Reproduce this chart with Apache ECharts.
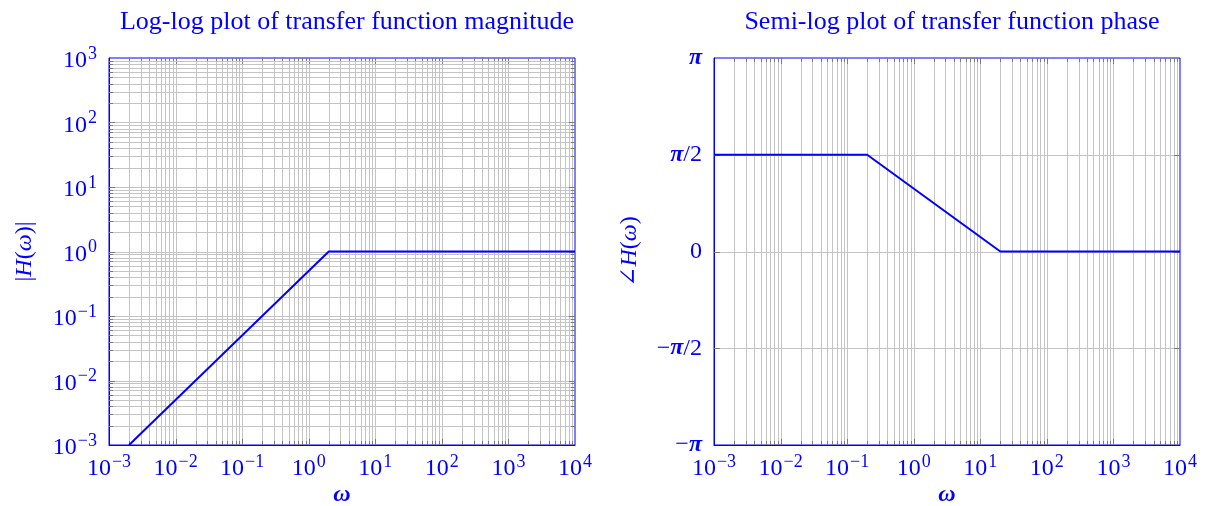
<!DOCTYPE html>
<html>
<head>
<meta charset="utf-8">
<script src="https://cdn.jsdelivr.net/npm/echarts@6/dist/echarts.min.js"></script>
<style>
html,body{margin:0;padding:0;background:#fff;}
#c{width:1207px;height:506px;}
</style>
</head>
<body>
<div id="c"></div>
<script>
// ---- data ----
var titles = ['Log-log plot of transfer function magnitude', 'Semi-log plot of transfer function phase'];
var magOmega = [0.002, 2, 10000];
var magValues = [0.001, 1, 1];
var phaseOmega = [0.001, 0.2, 20, 10000];
var phaseValues = [Math.PI / 2, Math.PI / 2, 0, 0];
var phaseTickLabels = ['\u2212\u03C0', '\u2212\u03C0/2', '0', '\u03C0/2', '\u03C0'];
var xDecades = [-3, -2, -1, 0, 1, 2, 3, 4];
var magDecades = [-3, -2, -1, 0, 1, 2, 3];
var phaseGridValues = [-Math.PI, -Math.PI / 2, 0, Math.PI / 2, Math.PI];

var BLUE = '#0000ff';
var FONT = '"Liberation Serif", "DejaVu Serif", serif';

function decadeLines(decades) {
  var out = [];
  for (var i = 0; i < decades.length; i++) {
    var b = Math.pow(10, decades[i]);
    out.push([b, 1]);
    if (i < decades.length - 1) {
      for (var m = 2; m <= 9; m++) out.push([m * b, 0]);
    }
  }
  return out;
}

// grid items: [x, y, orient(0 vertical,1 horizontal), major]
var grid0Items = [];
decadeLines(xDecades).forEach(function (d) { grid0Items.push([d[0], 1, 0, d[1]]); });
decadeLines(magDecades).forEach(function (d) { grid0Items.push([1, d[0], 1, d[1]]); });
var grid1Items = [];
decadeLines(xDecades).forEach(function (d) { grid1Items.push([d[0], 0, 0, d[1]]); });
phaseGridValues.forEach(function (v) { grid1Items.push([1, v, 1, 1]); });

function renderGrid(params, api) {
  var cs = params.coordSys;
  var orient = api.value(2);
  var major = api.value(3);
  var p = api.coord([api.value(0), api.value(1)]);
  var children = [];
  var tl = major ? 6 : 4;
  var gridStyle = { stroke: '#c4c4c4', lineWidth: 1 };
  var tickStyle = { stroke: '#7a7a7a', lineWidth: 1 };
  if (orient === 0) {
    var x = Math.round(p[0]) + 0.5;
    if (x > cs.x + 1 && x < cs.x + cs.width - 1) {
      children.push({ type: 'line', shape: { x1: x, y1: cs.y, x2: x, y2: cs.y + cs.height }, style: gridStyle });
      children.push({ type: 'line', shape: { x1: x, y1: cs.y, x2: x, y2: cs.y + tl }, style: tickStyle });
      children.push({ type: 'line', shape: { x1: x, y1: cs.y + cs.height - tl, x2: x, y2: cs.y + cs.height }, style: tickStyle });
    }
  } else {
    var y = Math.round(p[1]) + 0.5;
    if (y > cs.y + 1 && y < cs.y + cs.height - 1) {
      children.push({ type: 'line', shape: { x1: cs.x, y1: y, x2: cs.x + cs.width, y2: y }, style: gridStyle });
      children.push({ type: 'line', shape: { x1: cs.x, y1: y, x2: cs.x + tl, y2: y }, style: tickStyle });
      children.push({ type: 'line', shape: { x1: cs.x + cs.width - tl, y1: y, x2: cs.x + cs.width, y2: y }, style: tickStyle });
    }
  }
  return { type: 'group', children: children };
}

function powLabel(v) {
  var e = Math.round(Math.log10(v));
  var s = e < 0 ? '\u2212' + (-e) : String(e);
  return '{b|10}{s|' + s + '}';
}
var powRich = {
  b: { fontFamily: FONT, fontSize: 24, color: BLUE, lineHeight: 30, verticalAlign: 'bottom' },
  s: { fontFamily: FONT, fontSize: 18, color: BLUE, lineHeight: 30, verticalAlign: 'bottom', padding: [0, 0, 10, 1] }
};

function logXAxis(gi) {
  return {
    type: 'log', gridIndex: gi, logBase: 10, min: 0.001, max: 10000, interval: 1,
    name: '{i|\u03C9}', nameLocation: 'middle', nameGap: 38, nameMoveOverlap: false,
    nameTextStyle: { rich: { i: { fontFamily: FONT, fontStyle: 'italic', fontWeight: 'bold', fontSize: 24, color: BLUE } } },
    axisLine: { show: true, onZero: false, lineStyle: { color: BLUE, width: 1 } },
    axisTick: { show: false },
    splitLine: { show: false },
    minorTick: { show: false }, minorSplitLine: { show: false },
    axisLabel: { formatter: powLabel, margin: 6, rich: powRich, showMinLabel: true, showMaxLabel: true }
  };
}

var option = {
  animation: false,
  title: [
    { text: titles[0], left: 342, top: 4, textAlign: 'center', textStyle: { fontFamily: FONT, fontWeight: 'normal', fontSize: 26, color: BLUE } },
    { text: titles[1], left: 947, top: 4, textAlign: 'center', textStyle: { fontFamily: FONT, fontWeight: 'normal', fontSize: 26, color: BLUE } }
  ],
  grid: [
    { left: 109, right: 632, top: 58, bottom: 61, show: true, borderColor: BLUE, borderWidth: 1, backgroundColor: 'transparent', containLabel: false, outerBoundsMode: 'none' },
    { left: 714, right: 27, top: 58, bottom: 61, show: true, borderColor: BLUE, borderWidth: 1, backgroundColor: 'transparent', containLabel: false, outerBoundsMode: 'none' }
  ],
  xAxis: [logXAxis(0), logXAxis(1)],
  yAxis: [
    {
      type: 'log', gridIndex: 0, logBase: 10, min: 0.001, max: 1000, interval: 1,
      name: '{n||}{i|H}{n|(}{i|\u03C9}{n|)|}', nameLocation: 'middle', nameGap: 72, nameRotate: 90, nameMoveOverlap: false,
      nameTextStyle: { rich: {
        n: { fontFamily: FONT, fontSize: 24, color: BLUE },
        i: { fontFamily: FONT, fontStyle: 'italic', fontSize: 24, color: BLUE }
      } },
      axisLine: { show: true, onZero: false, lineStyle: { color: BLUE, width: 1 } },
      axisTick: { show: false }, splitLine: { show: false },
      axisLabel: { formatter: powLabel, margin: 12, rich: powRich, showMinLabel: true, showMaxLabel: true }
    },
    {
      type: 'value', gridIndex: 1, min: -Math.PI, max: Math.PI, interval: Math.PI / 2,
      name: '{n|\u2220}{i|H}{n|(}{i|\u03C9}{n|)}', nameLocation: 'middle', nameGap: 72, nameRotate: 90, nameMoveOverlap: false,
      nameTextStyle: { rich: {
        n: { fontFamily: FONT, fontSize: 24, color: BLUE },
        i: { fontFamily: FONT, fontStyle: 'italic', fontSize: 24, color: BLUE }
      } },
      axisLine: { show: true, onZero: false, lineStyle: { color: BLUE, width: 1 } },
      axisTick: { show: false }, splitLine: { show: false },
      axisLabel: {
        margin: 12,
        formatter: function (v) {
          var idx = Math.round(v / (Math.PI / 2)) + 2;
          var t = phaseTickLabels[idx];
          return t.replace(/\u03C0/g, '{p|\u03C0}').replace(/^([^{]*)/, '{n|$1}').replace(/\}([^{]+)$/, '}{n|$1}');
        },
        rich: {
          n: { fontFamily: FONT, fontSize: 24, color: BLUE },
          p: { fontFamily: FONT, fontStyle: 'italic', fontWeight: 'bold', fontSize: 24, color: BLUE }
        }
      }
    }
  ],
  series: [
    { type: 'custom', xAxisIndex: 0, yAxisIndex: 0, renderItem: renderGrid, data: grid0Items, silent: true, z: 1, clip: false },
    { type: 'custom', xAxisIndex: 1, yAxisIndex: 1, renderItem: renderGrid, data: grid1Items, silent: true, z: 1, clip: false },
    {
      type: 'line', xAxisIndex: 0, yAxisIndex: 0, data: magOmega.map(function (w, i) { return [w, magValues[i]]; }),
      showSymbol: false, symbol: 'none', lineStyle: { color: BLUE, width: 2 }, z: 5, clip: true
    },
    {
      type: 'line', xAxisIndex: 1, yAxisIndex: 1, data: phaseOmega.map(function (w, i) { return [w, phaseValues[i]]; }),
      showSymbol: false, symbol: 'none', lineStyle: { color: BLUE, width: 2 }, z: 5, clip: true
    }
  ]
};
var chart = echarts.init(document.getElementById('c'), null, { renderer: 'canvas' });
chart.setOption(option);
</script>
</body>
</html>
